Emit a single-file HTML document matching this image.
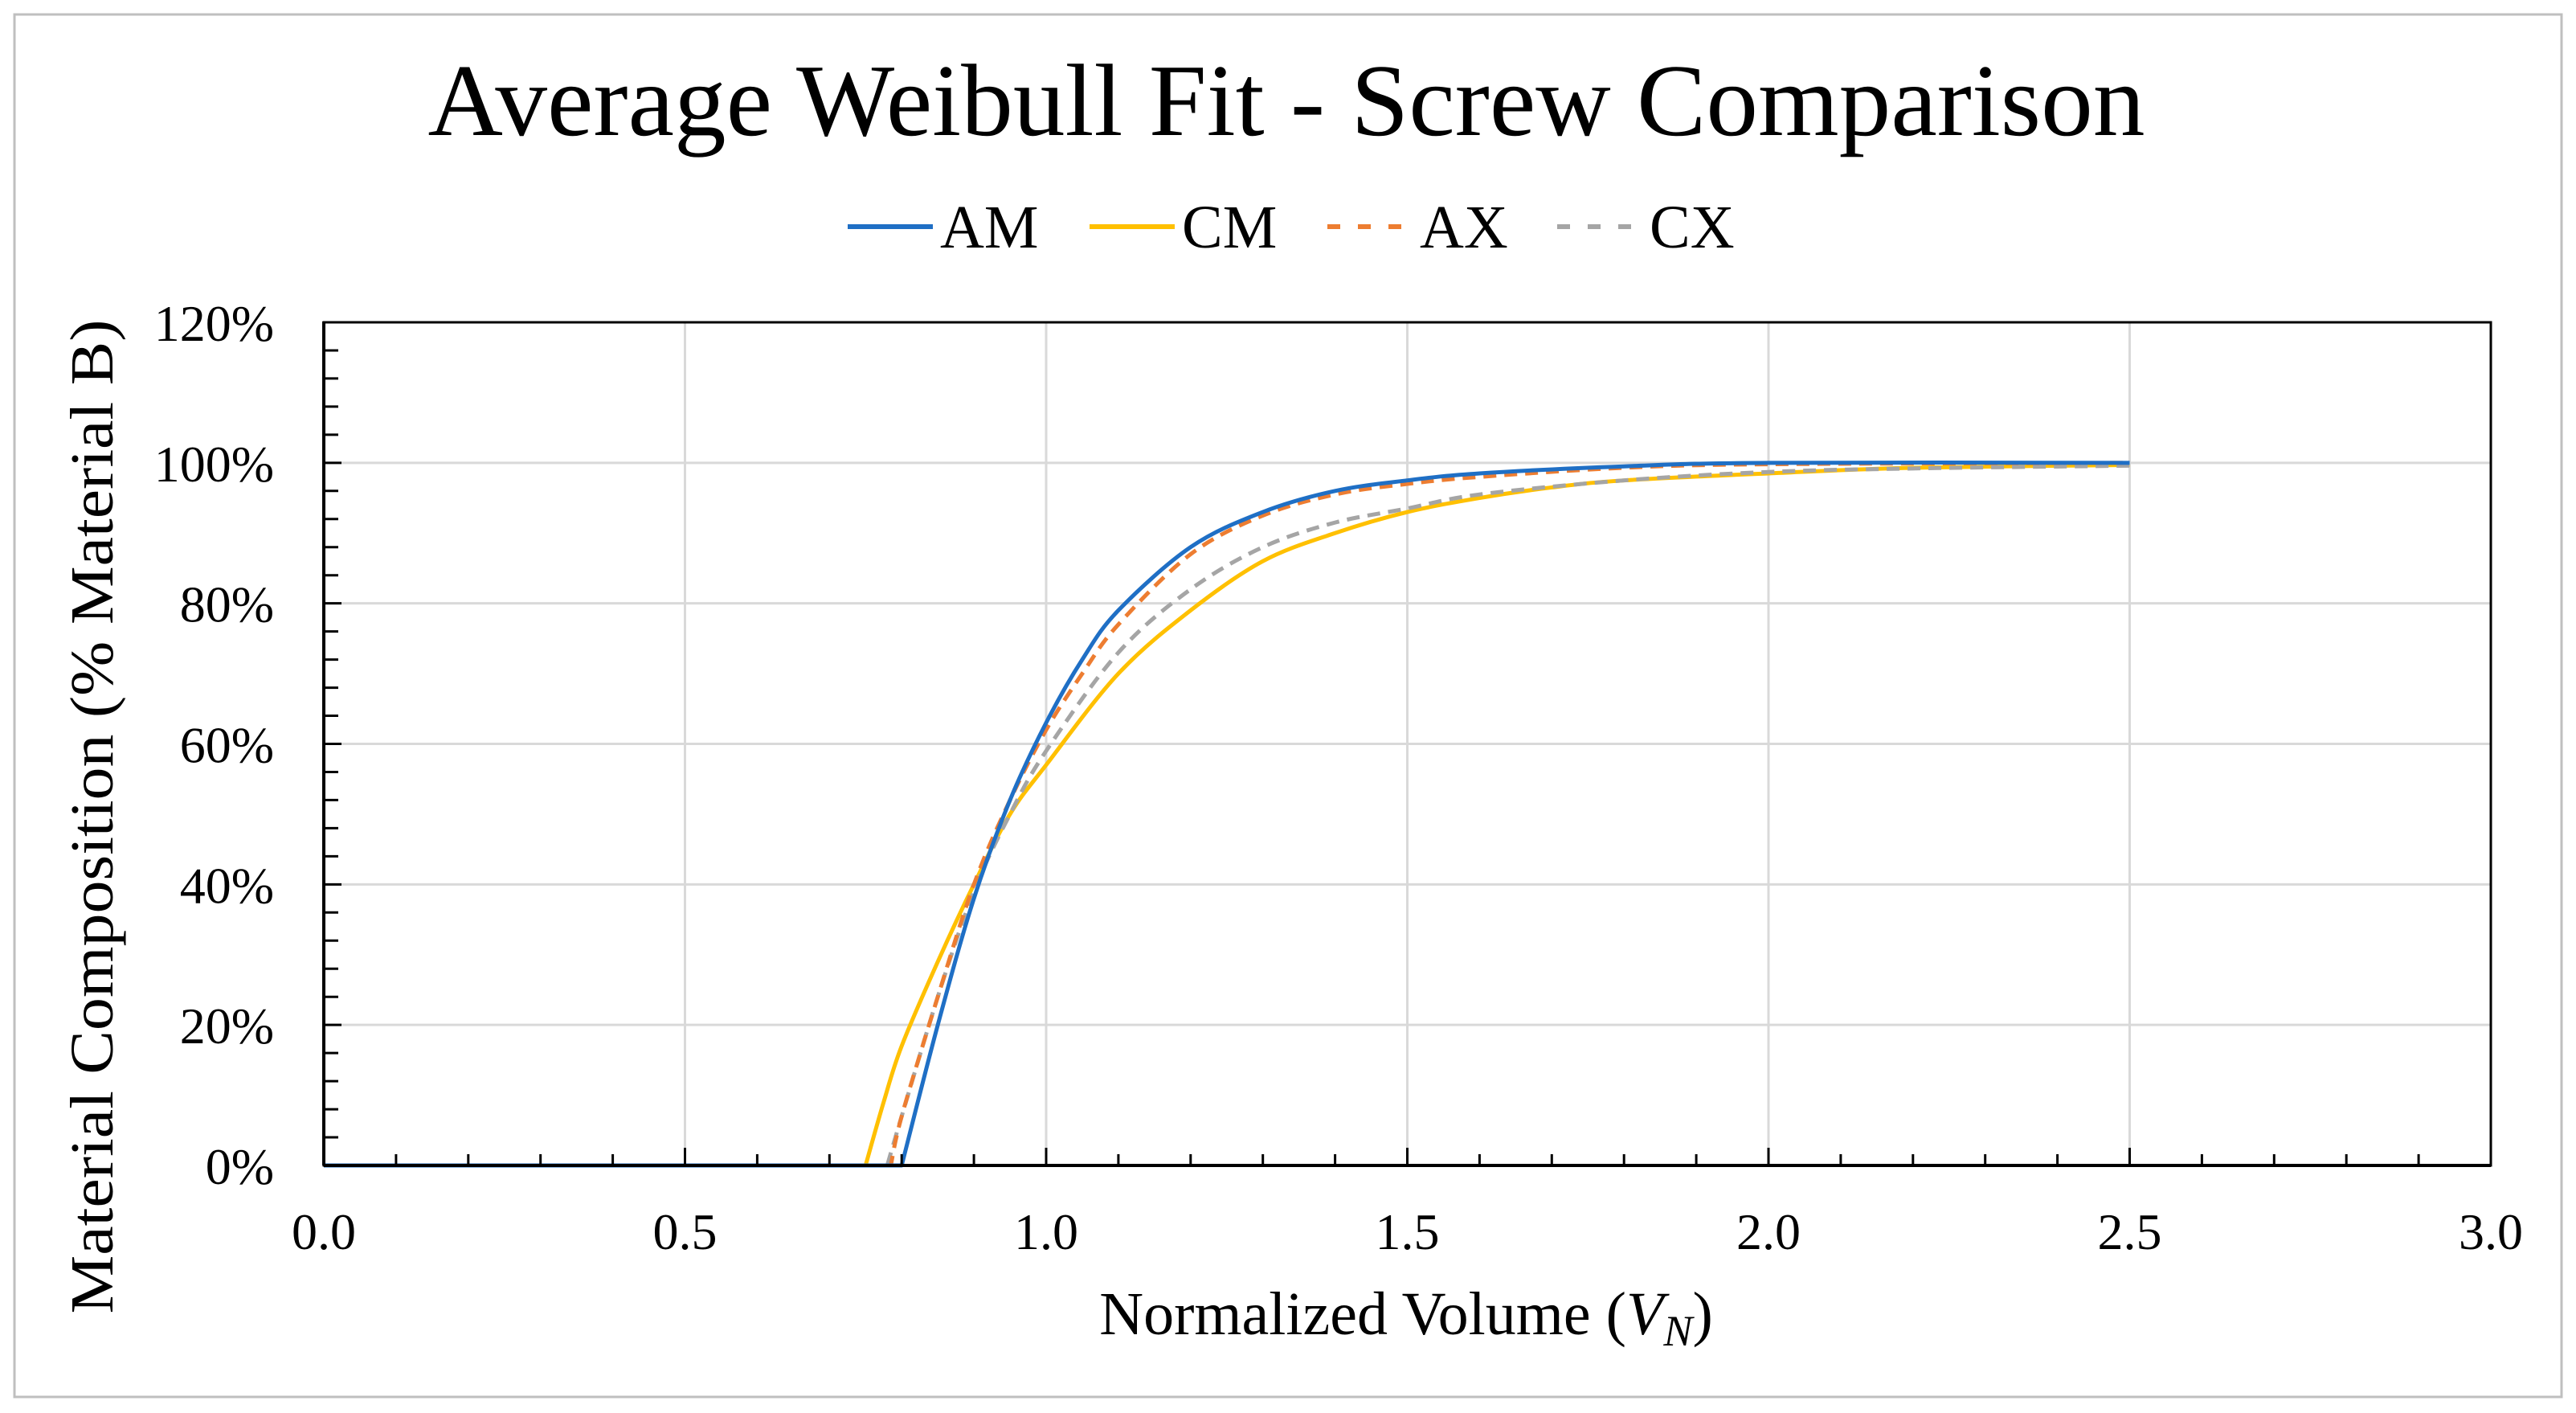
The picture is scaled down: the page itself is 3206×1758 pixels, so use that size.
<!DOCTYPE html>
<html><head><meta charset="utf-8"><style>
html,body{margin:0;padding:0;background:#fff;}
svg{display:block;font-family:"Liberation Serif",serif;}
</style></head><body>
<svg id="chart" width="3206" height="1758" viewBox="0 0 3206 1758" xmlns="http://www.w3.org/2000/svg">
<rect x="18" y="18" width="3170" height="1720" fill="#fff" stroke="#bfbfbf" stroke-width="3"/>
<text x="1601" y="168" font-size="128" text-anchor="middle" textLength="2137" lengthAdjust="spacingAndGlyphs">Average Weibull Fit - Screw Comparison</text>
<g id="legend"></g>
<g id="grid"></g>
<g id="series"></g>
<g id="axes"></g>
<text x="1750" y="1660" font-size="76" text-anchor="middle">Normalized Volume (<tspan font-style="italic">V</tspan><tspan font-style="italic" font-size="54" dy="14">N</tspan><tspan dy="-14">)</tspan></text>
<text x="0" y="0" font-size="76" text-anchor="middle" textLength="1237" lengthAdjust="spacingAndGlyphs" transform="translate(140,1016) rotate(-90)">Material Composition (% Material B)</text>
</svg>
<script>
const seriesNames = ['AM','CM','AX','CX'];
const xTicks = [0,0.5,1.0,1.5,2.0,2.5,3.0];
const xTickLabels = ['0.0','0.5','1.0','1.5','2.0','2.5','3.0'];
const yTicks = [0,20,40,60,80,100,120];
const yTickLabels = ['0%','20%','40%','60%','80%','100%','120%'];
const amX = [0,0.80,0.85,0.90,0.95,1.00,1.05,1.10,1.20,1.30,1.40,1.50,1.60,1.80,2.00,2.50];
const amY = [0,0,20,38,52,63,72,79,88,93,96,97.5,98.5,99.5,100,100];
const cmX = [0,0.75,0.775,0.80,0.85,0.90,0.95,1.00,1.10,1.20,1.30,1.40,1.50,1.60,1.70,1.80,2.00,2.20,2.50];
const cmY = [0,0,9,17,29,40,50,57,70,79,86,90,93,95,96.5,97.5,98.5,99.3,99.7];
const axX = [0,0.785,0.80,0.85,0.90,0.95,1.00,1.05,1.10,1.20,1.30,1.40,1.50,1.60,1.80,2.00,2.50];
const axY = [0,0,7,24,40,52,62,70,77,87,92.5,95.5,97,98,99.3,99.8,100];
const cxX = [0,0.78,0.80,0.85,0.90,0.95,1.00,1.10,1.20,1.30,1.40,1.50,1.60,1.80,2.00,2.20,2.50];
const cxY = [0,0,7,24,39,50,59,73,82,88,91.5,93.5,95.5,97.5,98.7,99.2,99.6];

const L=403,R=3100,T=401,B=1450;
const xs=v=>L+(v-0)/(3-0)*(R-L);
const ys=v=>B-(v-0)/(120-0)*(B-T);
const NS='http://www.w3.org/2000/svg';
function mk(tag,attrs,parent){const e=document.createElementNS(NS,tag);for(const k in attrs)e.setAttribute(k,attrs[k]);parent.appendChild(e);return e;}
const grid=document.getElementById('grid'),axes=document.getElementById('axes'),ser=document.getElementById('series'),leg=document.getElementById('legend');
yTicks.forEach((t,i)=>{if(t===0)return;const l=mk('line',{x1:L,x2:R,y1:ys(t),y2:ys(t),stroke:'#d9d9d9','stroke-width':3},grid);

});
xTicks.forEach(t=>{if(t===0)return;const l=mk('line',{x1:xs(t),x2:xs(t),y1:T,y2:B,stroke:'#d9d9d9','stroke-width':3},grid);

});
function pathD(X,Y){const pts=X.map((x,i)=>[xs(x),ys(Y[i])]);
let d='M'+pts[0][0]+','+pts[0][1]+' L'+pts[1][0]+','+pts[1][1];
const t=1/6;
for(let i=1;i<pts.length-1;i++){const p1=pts[i],p2=pts[i+1],p0=(i===1)?p1:pts[i-1],p3=pts[Math.min(pts.length-1,i+2)];
const c1=[p1[0]+(p2[0]-p0[0])*t,p1[1]+(p2[1]-p0[1])*t],c2=[p2[0]-(p3[0]-p1[0])*t,p2[1]-(p3[1]-p1[1])*t];
c1[1]=Math.max(c1[1],ys(100.2));c2[1]=Math.max(c2[1],ys(100.2));
d+=' C'+c1+' '+c2+' '+p2;}
return d;}
const styles={AM:{c:'#1f6fc5',d:null},CM:{c:'#ffc000',d:null},AX:{c:'#ed7d31',d:'16 10'},CX:{c:'#a5a5a5',d:'16 10'}};
const data={AM:[amX,amY],CM:[cmX,cmY],AX:[axX,axY],CX:[cxX,cxY]};
['CM','CX','AX','AM'].forEach(n=>{const s=styles[n];const p=mk('path',{d:pathD(data[n][0],data[n][1]),fill:'none',stroke:s.c,'stroke-width':5,'stroke-linejoin':'round'},ser);
if(s.d)p.setAttribute('stroke-dasharray',s.d);

});
const ax1=mk('line',{x1:L,x2:L,y1:T-1,y2:B,stroke:'#000','stroke-width':4},axes);


const ax2=mk('line',{x1:L,x2:R,y1:B,y2:B,stroke:'#000','stroke-width':4},axes);


const fr=mk('rect',{x:L,y:T,width:R-L,height:B-T,fill:'none',stroke:'#000','stroke-width':3},axes);


for(let v=0;v<=120.01;v+=4){const l=mk('line',{x1:L,x2:L+(v%20===0?22:18),y1:ys(v),y2:ys(v),stroke:'#000','stroke-width':3},axes);

}
for(let i=0;i<=30;i++){const v=i/10;const l=mk('line',{x1:xs(v),x2:xs(v),y1:B,y2:B-(i%5===0?22:14),stroke:'#000','stroke-width':3},axes);

}
yTicks.forEach((t,i)=>{const e=mk('text',{x:341,y:ys(t)+23,'font-size':64,'text-anchor':'end'},axes);e.textContent=yTickLabels[i];

});
xTicks.forEach((t,i)=>{const e=mk('text',{x:xs(t),y:1554,'font-size':64,'text-anchor':'middle'},axes);e.textContent=xTickLabels[i];

});
const legX=[1055,1356,1652,1938];
seriesNames.forEach((n,i)=>{const s=styles[n];const g=mk('g',{},leg);


const l=mk('line',{x1:legX[i],x2:legX[i]+106,y1:282,y2:282,stroke:s.c,'stroke-width':6},g);
if(s.d)l.setAttribute('stroke-dasharray','16 22');
const t=mk('text',{x:legX[i]+115,y:308,'font-size':76},g);t.textContent=n;});
</script>
</body></html>
